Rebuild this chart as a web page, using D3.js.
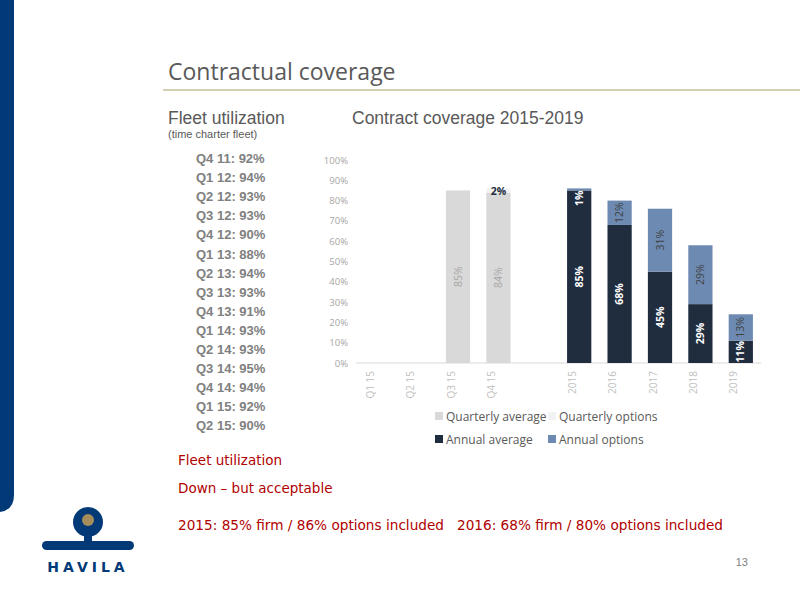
<!DOCTYPE html>
<html><head><meta charset="utf-8">
<script src="https://cdn.jsdelivr.net/npm/d3@7"></script>
<style>body{margin:0;background:#fff}svg{display:block}</style></head>
<body><svg id="c" width="800" height="600"></svg>
<script>
const categories = ["Q1 15","Q2 15","Q3 15","Q4 15","","2015","2016","2017","2018","2019"];
const quarterlyAverage = [null,null,85,84,null,null,null,null,null,null];
const quarterlyOptions = [null,null,null,2,null,null,null,null,null,null];
const annualAverage = [null,null,null,null,null,85,68,45,29,11];
const annualOptions = [null,null,null,null,null,1,12,31,29,13];
const yTicks = [0,10,20,30,40,50,60,70,80,90,100];
const utilization = ["Q4 11: 92%","Q1 12: 94%","Q2 12: 93%","Q3 12: 93%","Q4 12: 90%","Q1 13: 88%","Q2 13: 94%","Q3 13: 93%","Q4 13: 91%","Q1 14: 93%","Q2 14: 93%","Q3 14: 95%","Q4 14: 94%","Q1 15: 92%","Q2 15: 90%"];

const svg = d3.select("#c");
svg.append("path").attr("d","M0,0H14V495Q14,510 0,512Z").attr("fill","#023a78");
svg.append("text").attr("x",168).attr("y",80).attr("font-family","Open Sans").attr("font-size",23).attr("fill","#595959").text("Contractual coverage");
svg.append("line").attr("x1",163).attr("x2",800).attr("y1",90).attr("y2",90).attr("stroke","#c9c19a").attr("stroke-width",1.5);
svg.append("text").attr("x",168).attr("y",124).attr("font-family","Liberation Sans").attr("font-size",17.5).attr("fill","#595959").text("Fleet utilization");
svg.append("text").attr("x",168).attr("y",138).attr("font-family","Liberation Sans").attr("font-size",11).attr("fill","#595959").text("(time charter fleet)");
svg.append("text").attr("x",352).attr("y",124).attr("font-family","Liberation Sans").attr("font-size",17.5).attr("fill","#595959").text("Contract coverage 2015-2019");
utilization.forEach((t,i)=>svg.append("text").attr("x",196).attr("y",163+i*19.1).attr("font-family","Liberation Sans").attr("font-weight","bold").attr("font-size",13).attr("fill","#808080").text(t));
const red = "#b00000";
[["Fleet utilization",465,null],["Down – but acceptable",493,null],["2015: 85% firm / 86% options included   2016: 68% firm / 80% options included",530,545]].forEach(([t,y,L])=>{
  const e=svg.append("text").attr("x",178).attr("y",y).attr("font-family","DejaVu Sans").attr("font-size",13.5).attr("fill",red).attr("xml:space","preserve").text(t);
  if(L) e.attr("textLength",L).attr("lengthAdjust","spacingAndGlyphs");
});
svg.append("text").attr("x",748).attr("y",566).attr("text-anchor","end").attr("font-family","Liberation Sans").attr("font-size",11).attr("fill","#808080").text("13");
const lg = svg.append("g");
lg.append("circle").attr("cx",88).attr("cy",522).attr("r",15).attr("fill","#023a78");
lg.append("circle").attr("cx",88).attr("cy",520).attr("r",6).attr("fill","#a58c5a");
lg.append("rect").attr("x",84).attr("y",530).attr("width",8).attr("height",14).attr("fill","#023a78");
lg.append("rect").attr("x",42).attr("y",541).attr("width",92).attr("height",9).attr("rx",4.5).attr("fill","#023a78");
lg.append("text").attr("x",88).attr("y",572).attr("text-anchor","middle").attr("font-family","DejaVu Sans").attr("font-weight","bold").attr("font-size",14).attr("letter-spacing",4).attr("fill","#023a78").text("HAVILA");

const x = d3.scaleBand().domain(categories.map((c,i)=>i)).range([357,761]).paddingInner(0.4).paddingOuter(0.2);
const y = d3.scaleLinear().domain([0,100]).range([363,160]);
const font="Open Sans";
const ya = svg.append("g").attr("transform","translate(356,0)").call(d3.axisLeft(y).tickValues(yTicks).tickFormat(d=>d+"%").tickSize(0).tickPadding(8));
ya.select(".domain").remove();
ya.selectAll("text").attr("font-family",font).attr("font-size",9.5).attr("fill","#a6a6a6");
svg.append("line").attr("x1",356).attr("x2",761).attr("y1",y(0)).attr("y2",y(0)).attr("stroke","#d9d9d9");
const xa = svg.append("g").attr("transform",`translate(0,${y(0)})`).call(d3.axisBottom(x).tickFormat(i=>categories[i]).tickSize(0));
xa.select(".domain").remove();
xa.selectAll("text").attr("font-family",font).attr("font-size",10).attr("fill","#bfbfbf")
  .attr("transform","rotate(-90)").attr("text-anchor","end").attr("dx","-8").attr("dy","-0.35em").attr("x",0).attr("y",0);

function stack(base, top, c1, c2, lc1, lc2){
  categories.forEach((c,i)=>{
    const a = base[i]; if(a==null) return;
    const b = top[i]||0;
    const bx = x(i), w = x.bandwidth();
    svg.append("rect").attr("x",bx).attr("y",y(a)).attr("width",w).attr("height",y(0)-y(a)).attr("fill",c1);
    if(b) svg.append("rect").attr("x",bx).attr("y",y(a+b)).attr("width",w).attr("height",y(a)-y(a+b)).attr("fill",c2);
    const cx = bx+w/2;
    svg.append("text").attr("transform",`translate(${cx},${y(a/2)}) rotate(-90)`).attr("text-anchor","middle").attr("dy","0.35em")
      .attr("font-family",font).attr("font-size",10.5).attr("font-weight",lc1=="#fff"?"bold":"normal").attr("fill",lc1).text(a+"%");
    if(b){
      if(b>=5) svg.append("text").attr("transform",`translate(${cx},${y(a+b/2)}) rotate(-90)`).attr("text-anchor","middle").attr("dy","0.35em")
        .attr("font-family",font).attr("font-size",10.5).attr("fill",lc2).text(b+"%");
      else if(lc1=="#fff") svg.append("text").attr("transform",`translate(${cx},${y(a+b)+2}) rotate(-90)`).attr("text-anchor","end").attr("dy","0.35em")
        .attr("font-family",font).attr("font-size",10.5).attr("font-weight","bold").attr("fill","#fff").text(b+"%");
      else svg.append("text").attr("x",cx).attr("y",y(a+b)+7).attr("text-anchor","middle")
        .attr("font-family",font).attr("font-size",10.5).attr("font-weight","bold").attr("fill","#1f2d3f").text(b+"%");
    }
  });
}
stack(quarterlyAverage, quarterlyOptions, "#d9d9d9", "#f2f2f2", "#a6a6a6", "#1f2d3f");
stack(annualAverage, annualOptions, "#202d3f", "#6d8bb2", "#fff", "#404040");

const leg = [["Quarterly average","#d9d9d9",435,417],["Quarterly options","#f2f2f2",548,417],["Annual average","#202d3f",435,440],["Annual options","#6d8bb2",548,440]];
leg.forEach(([t,c,lx,ly])=>{
  svg.append("rect").attr("x",lx).attr("y",ly-5).attr("width",8).attr("height",8).attr("fill",c);
  svg.append("text").attr("x",lx+11).attr("y",ly).attr("dy","0.35em").attr("font-family",font).attr("font-size",12).attr("fill","#595959").text(t);
});
</script></body></html>
